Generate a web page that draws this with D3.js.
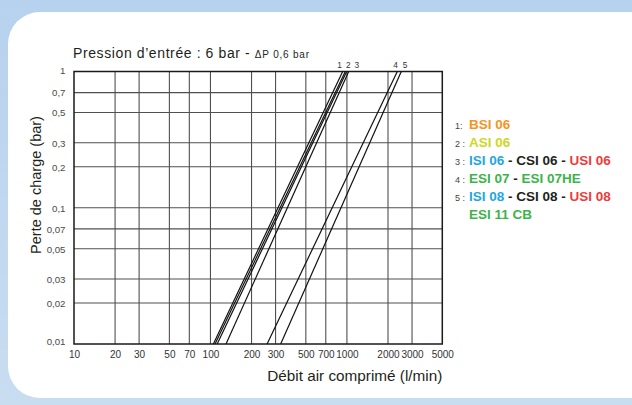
<!DOCTYPE html>
<html><head><meta charset="utf-8">
<script src="https://cdn.jsdelivr.net/npm/d3@7"></script>
<style>
html,body{margin:0;padding:0;background:#fff;}
svg{display:block;}
</style></head>
<body>
<svg id="chart" width="632" height="405"></svg>
<script>
// ---- data ----
const xTicks = [10, 20, 30, 50, 70, 100, 200, 300, 500, 700, 1000, 2000, 3000, 5000];
const yTicks = [0.01, 0.02, 0.03, 0.05, 0.07, 0.1, 0.2, 0.3, 0.5, 0.7, 1];
const yTickLabels = ["0,01", "0,02", "0,03", "0,05", "0,07", "0,1", "0,2", "0,3", "0,5", "0,7", "1"];
// each curve: flow (l/min) at 0.01 bar and at 1 bar pressure drop
const curveFlowLow  = [105, 108, 112, 130, 260, 327];
const curveFlowHigh = [931, 973, 996, 1031, 2340, 2503];
const dpLow = 0.01, dpHigh = 1;
const curveLabels = ["1", "2", "3", "4", "5"];
const curveLabelFlows = [882, 1024, 1182, 2270, 2665];
const legendNums = ["1:", "2 :", "3 :", "4 :", "5 :", ""];
const legendRows = [
  [["BSI 06", "#f7941d"]],
  [["ASI 06", "#cfd624"]],
  [["ISI 06", "#1ea8e0"], [" - ", "#231f20"], ["CSI 06", "#231f20"], [" - ", "#231f20"], ["USI 06", "#ee3b3b"]],
  [["ESI 07", "#3cb44b"], [" - ", "#231f20"], ["ESI 07HE", "#3cb44b"]],
  [["ISI 08", "#1ea8e0"], [" - ", "#231f20"], ["CSI 08", "#231f20"], [" - ", "#231f20"], ["USI 08", "#ee3b3b"]],
  [["ESI 11 CB", "#3cb44b"]]
];

const svg = d3.select("#chart");
const FONT = "'Liberation Sans', Arial, Helvetica, sans-serif";

// background
const defs = svg.append("defs");
const g1 = defs.append("linearGradient").attr("id","bg").attr("x1","0").attr("y1","0").attr("x2","0").attr("y2","1");
g1.append("stop").attr("offset","0").attr("stop-color","#b7d2ee");
g1.append("stop").attr("offset","1").attr("stop-color","#c9ddf1");
svg.append("rect").attr("width",632).attr("height",405).attr("fill","url(#bg)");
svg.append("rect").attr("x",8).attr("y",12).attr("width",654).attr("height",386)
  .attr("rx",32).attr("ry",32).attr("fill","#ffffff");

// scales
const x = d3.scaleLog().domain([10, 5000]).range([74, 442.3]);
const y = d3.scaleLog().domain([0.01, 1]).range([344, 71.5]);

// grid
const grid = svg.append("g");
grid.selectAll("line.gx").data(xTicks.slice(1, -1)).join("line")
  .attr("x1", d => x(d)).attr("x2", d => x(d)).attr("y1", y(1)).attr("y2", y(0.01))
  .attr("stroke", "#505050").attr("stroke-width", 1.1);
grid.selectAll("line.gy").data(yTicks.slice(1, -1)).join("line")
  .attr("x1", x(10)).attr("x2", x(5000)).attr("y1", d => y(d)).attr("y2", d => y(d))
  .attr("stroke", "#505050").attr("stroke-width", 1.1);
svg.append("rect").attr("x", x(10)).attr("y", y(1))
  .attr("width", x(5000) - x(10)).attr("height", y(0.01) - y(1))
  .attr("fill", "none").attr("stroke", "#1a1a1a").attr("stroke-width", 1.5);

// axes (labels only)
const xAxis = d3.axisBottom(x).tickValues(xTicks).tickFormat(d3.format("d")).tickSize(0).tickPadding(7);
const gx = svg.append("g").attr("transform", `translate(0,${y(0.01)})`).call(xAxis);
gx.select(".domain").remove();
gx.selectAll("text").attr("font-family", FONT).attr("font-size", 10).attr("fill", "#333");

const yAxis = d3.axisLeft(y).tickValues(yTicks).tickFormat((d, i) => yTickLabels[i]).tickSize(0).tickPadding(8.5);
const gy = svg.append("g").attr("transform", `translate(${x(10)},0)`).call(yAxis);
gy.select(".domain").remove();
gy.selectAll("text").attr("font-family", FONT).attr("font-size", 9.7).attr("fill", "#4a4a4a")
  .attr("dy", d => (d === 0.01 ? "0em" : d === 1 ? "0.2em" : "0.34em"));

// curves
const line = d3.line().x(d => x(d[0])).y(d => y(d[1]));
svg.append("g").selectAll("path").data(curveFlowLow.map((q, i) => [[q, dpLow], [curveFlowHigh[i], dpHigh]]))
  .join("path").attr("d", line).attr("fill", "none").attr("stroke", "#111").attr("stroke-width", 1.2);

// curve labels
svg.append("g").selectAll("text").data(curveLabels).join("text")
  .attr("x", (d, i) => x(curveLabelFlows[i])).attr("y", y(1) - 4)
  .attr("text-anchor", "middle")
  .attr("font-family", FONT).attr("font-size", 8.3).attr("fill", "#333")
  .text(d => d);

// title
const title = svg.append("text").attr("x", 73).attr("y", 58)
  .attr("font-family", FONT).attr("fill", "#231f20");
title.append("tspan").attr("font-size", 14).attr("letter-spacing", 0.6).text("Pression d’entrée : 6 bar - ");
title.append("tspan").attr("font-size", 10).attr("letter-spacing", 0.8).text("ΔP 0,6 bar");

// axis titles
svg.append("text").attr("transform", `translate(40.5,185) rotate(-90)`)
  .attr("text-anchor", "middle").attr("font-family", FONT)
  .attr("font-size", 14.5).attr("fill", "#231f20").text("Perte de charge (bar)");
svg.append("text").attr("x", x(5000)).attr("y", 381).attr("text-anchor", "end")
  .attr("font-family", FONT)
  .attr("font-size", 15.3).attr("fill", "#231f20").text("Débit air comprimé (l/min)");

// legend
const leg = svg.append("g");
legendRows.forEach((row, i) => {
  const yy = 129 + i * 18;
  leg.append("text").attr("x", 455).attr("y", yy - 0.5)
    .attr("font-family", FONT).attr("font-size", 9).attr("fill", "#444")
    .text(legendNums[i]);
  const t = leg.append("text").attr("x", 469).attr("y", yy)
    .attr("font-family", FONT).attr("font-size", 13.5)
    .attr("font-weight", "bold").attr("xml:space", "preserve");
  row.forEach(([s, c]) => t.append("tspan").attr("fill", c).text(s));
});
</script>
</body></html>
